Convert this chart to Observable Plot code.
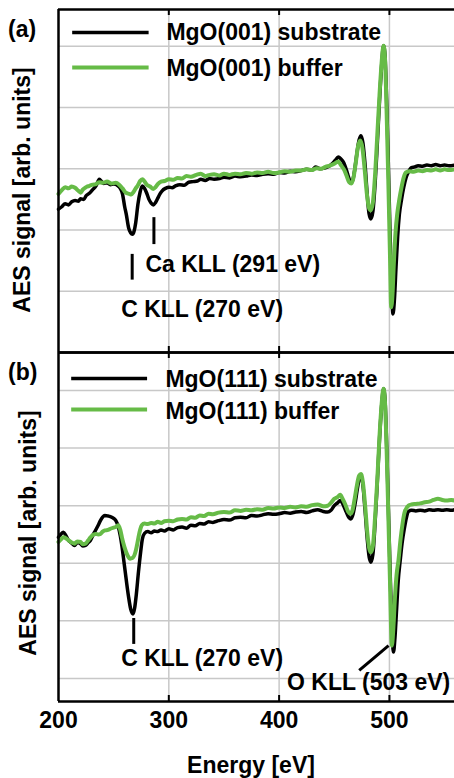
<!DOCTYPE html>
<html><head><meta charset="utf-8">
<script src="https://cdn.jsdelivr.net/npm/d3@7"></script>
<script src="https://cdn.jsdelivr.net/npm/@observablehq/plot@0.6"></script>
<style>
body{margin:0;background:#fff;}
#wrap{position:relative;width:454px;height:778px;overflow:hidden;}
#wrap svg{position:absolute;left:0;}
</style></head><body>
<div id="wrap"></div>
<script>
// ---------- data ----------
const xTickLabels = [200, 300, 400, 500];
const gridEnergies = [300, 400, 500];
const panelLabels = ["(a)", "(b)"];
const yLabel = "AES signal [arb. units]";
const xLabel = "Energy [eV]";
const legendA = ["MgO(001) substrate", "MgO(001) buffer"];
const legendB = ["MgO(111) substrate", "MgO(111) buffer"];
const annotA = ["Ca KLL (291 eV)", "C KLL (270 eV)"];
const annotB = ["C KLL (270 eV)", "O KLL (503 eV)"];

// Panel (a) substrate
const aSubE = [200,203,206,209,212,215,218,220,223,225,228,231,234,237,239,241,244,247,250,254,256,258,260,261.5,263.5,265.5,267,268.5,270,272,274,276,278,280,282,284,286,288,290,292,294,297,300,303,306,310,314,318,322,326,329,333,337,341,346,350,355,360,365,370,375,380,385,390,395,400,405,410,415,420,425,430,433,437,441,445,448,451,453.6,456,458.5,461,463,465,466.5,468.5,470.5,472.5,474.2,476,478,480,481.5,483.2,485,487,489,491,493,494.7,496,497.5,499,500.5,502,503.2,504.5,506,507.5,509,511,513,515,517.3,520,523,526,530,534,538,542,546,550,554,559];
const aSubV = [2.34,2.38,2.43,2.41,2.46,2.48,2.47,2.51,2.50,2.56,2.60,2.66,2.72,2.83,2.79,2.76,2.77,2.74,2.75,2.72,2.68,2.59,2.38,2.25,2.04,1.95,1.93,1.98,2.12,2.42,2.62,2.72,2.68,2.60,2.50,2.44,2.41,2.45,2.52,2.59,2.64,2.68,2.70,2.69,2.72,2.74,2.73,2.78,2.79,2.80,2.83,2.81,2.84,2.83,2.84,2.86,2.85,2.88,2.87,2.88,2.90,2.89,2.91,2.92,2.91,2.94,2.93,2.96,2.95,2.97,2.99,2.98,3.03,3.00,3.01,3.04,3.08,3.14,3.19,3.16,3.10,2.98,2.86,2.78,2.80,2.98,3.25,3.47,3.54,3.42,3.05,2.55,2.27,2.18,2.30,2.75,3.40,4.10,4.70,5.01,4.85,4.10,3.10,2.00,1.05,0.63,0.85,1.40,1.90,2.25,2.50,2.70,2.85,2.95,3.02,3.03,3.05,3.04,3.06,3.05,3.07,3.05,3.06,3.05,3.06];
// Panel (a) buffer
const aBufE = [200,203,206,209,212,215,218,220,222,225,228,231,234,237,240,244,248,252,255,258,261,264,266,268,270,272,274,276,278,280,283,286,288,290,293,296,300,304,308,312,316,320,325,329,333,337,341,346,350,355,360,365,370,375,380,385,390,395,400,405,410,415,420,425,430,434,438,442,446,450,453.6,456,459,461.5,463.5,465.5,467.5,469.5,471.5,473.5,475.5,477.5,479.5,481.5,483,485,487,489,491,493,494.7,496,497.5,499,500.5,501.6,502.8,504,505.5,507,509,511,513,515,518,522,526,530,534,538,542,546,550,554,559];
const aBufV = [2.59,2.65,2.70,2.68,2.71,2.69,2.64,2.61,2.66,2.70,2.72,2.74,2.75,2.78,2.77,2.79,2.76,2.77,2.74,2.68,2.61,2.59,2.58,2.62,2.68,2.73,2.80,2.83,2.79,2.74,2.71,2.67,2.70,2.75,2.79,2.80,2.83,2.82,2.85,2.84,2.88,2.87,2.90,2.92,2.88,2.90,2.91,2.89,2.92,2.90,2.92,2.91,2.93,2.92,2.94,2.93,2.95,2.93,2.94,2.96,2.95,2.97,2.97,2.99,2.98,3.01,3.00,3.03,3.05,3.08,3.12,3.06,2.98,2.87,2.78,2.76,2.86,3.10,3.36,3.46,3.34,3.00,2.60,2.36,2.32,2.45,2.90,3.55,4.20,4.75,5.01,4.80,3.90,2.80,1.60,0.74,0.95,1.45,1.95,2.25,2.50,2.70,2.86,2.94,2.96,2.95,2.97,2.96,2.98,2.97,2.99,2.97,2.99,2.98,2.99];
// Panel (b) substrate
const bSubE = [200,202,204.5,207,209,212,214.5,217,220,222,224.5,227,229,231,233.5,236,238,240,242,245,247,250,252,254.3,256,257.5,259.5,261.5,263.5,265.5,267.5,269,270.5,272.5,274.5,276,278,281,284,287,290,293,296,300,304,308,312,316,320,324,328,332,336,340,345,350,355,360,365,370,375,380,385,390,395,400,405,410,415,420,425,430,435,440,444,447,450,453,455.4,457.5,460,462.5,465,467,469,471,472.8,474.2,476,478,480,481.7,483.2,485,487,489,491,493,494.7,496,497.5,499,500.5,502,503.7,505,506.5,508,509.8,511.5,513.5,515.5,517.3,520,524,528,532,536,540,544,548,552,556,559];
const bSubV = [2.45,2.50,2.54,2.47,2.40,2.35,2.31,2.36,2.34,2.30,2.31,2.36,2.40,2.48,2.57,2.66,2.74,2.80,2.83,2.82,2.81,2.78,2.74,2.63,2.48,2.30,2.00,1.70,1.42,1.20,1.12,1.22,1.45,1.85,2.20,2.42,2.52,2.55,2.53,2.56,2.55,2.58,2.56,2.60,2.58,2.62,2.63,2.61,2.66,2.65,2.69,2.68,2.72,2.71,2.74,2.76,2.75,2.79,2.80,2.79,2.83,2.82,2.84,2.86,2.85,2.86,2.88,2.87,2.89,2.90,2.88,2.91,2.93,2.90,2.89,2.92,3.00,3.05,3.09,3.04,2.93,2.82,2.77,2.85,3.05,3.30,3.48,3.52,3.35,2.90,2.40,2.10,2.02,2.15,2.70,3.40,4.15,4.75,5.03,4.85,4.05,3.00,1.95,1.00,0.46,0.70,1.20,1.70,2.05,2.35,2.60,2.80,2.90,2.92,2.91,2.92,2.91,2.93,2.92,2.93,2.92,2.93,2.92,2.93];
// Panel (b) buffer
const bBufE = [200,202,204.5,207,209,212,214.5,217,220,222,224.5,227,229,231,233.5,236,238,240,242,245,247,250,252,254.3,256,257.5,259.8,262.5,265,267,269.7,271,272.5,274,275.5,278,281,284,287,290,293,296,300,304,308,312,316,320,324,328,332,336,340,345,350,355,360,365,370,375,380,385,390,395,400,405,410,415,420,425,430,435,440,444,447,450,453,455.4,457.5,460,462.5,464.5,466.5,468.5,470.5,472.5,474.2,476,478,480,481.7,483.2,485,487,489,491,493,494.7,496,497.5,499,500.5,502.2,503.5,505,506.5,508.2,510,512,514,517.3,520,524,528,532,536,540,544,548,552,556,559];
const bBufV = [2.37,2.41,2.45,2.43,2.40,2.36,2.34,2.38,2.37,2.33,2.34,2.40,2.45,2.49,2.51,2.50,2.51,2.55,2.57,2.58,2.60,2.62,2.63,2.66,2.58,2.45,2.28,2.14,2.08,2.09,2.19,2.30,2.45,2.58,2.66,2.69,2.68,2.70,2.69,2.72,2.70,2.73,2.74,2.73,2.76,2.77,2.76,2.80,2.79,2.83,2.82,2.86,2.85,2.88,2.89,2.88,2.92,2.91,2.93,2.92,2.94,2.93,2.96,2.95,2.97,2.96,2.98,2.97,2.99,2.98,3.01,3.02,2.99,3.00,3.05,3.12,3.15,3.19,3.12,3.02,2.90,2.86,2.92,3.12,3.35,3.52,3.55,3.40,3.00,2.52,2.26,2.19,2.30,2.80,3.45,4.20,4.78,5.03,4.80,3.95,2.85,1.70,0.57,0.85,1.40,1.80,2.05,2.40,2.70,2.90,3.00,3.02,3.03,3.04,3.06,3.07,3.10,3.12,3.10,3.09,3.10,3.09];

// ---------- build tables ----------
const toRows = (E, V) => E.map((e, i) => ({E: e, v: V[i]}));
const aSub = toRows(aSubE, aSubV), aBuf = toRows(aBufE, aBufV);
const bSub = toRows(bSubE, bSubV), bBuf = toRows(bBufE, bBufV);

const GREEN = "#66bb47";
const GRID = "#c8c8c8";
const FONT = "'Liberation Sans', Arial, Helvetica, sans-serif";
const FS = 23;
const W = 454, ML = 58;
const X_DOMAIN = [200, 559];
const txt = {fontFamily: FONT, fontWeight: "bold", fontSize: FS, fill: "black"};

function frameMarks(yDomain, plotH, gridYs) {
  return {
    grid: [
      Plot.ruleX(gridEnergies, {stroke: GRID, strokeWidth: 1.5}),
      Plot.ruleY(gridYs, {stroke: GRID, strokeWidth: 1.5})
    ],
    border: [
      Plot.ruleX(gridEnergies, {stroke: "black", strokeWidth: 2, insetBottom: plotH - 6}),
      Plot.ruleX(gridEnergies, {stroke: "black", strokeWidth: 2, insetTop: plotH - 6}),
      Plot.ruleX([X_DOMAIN[0]], {stroke: "black", strokeWidth: 2.5}),
      Plot.ruleY(yDomain, {stroke: "black", strokeWidth: 2.5})
    ]
  };
}

// ---------- panel (a) ----------
const HA = 352, MTA = 9, MBA = 0;
const yDomA = [0, 5.6];
const fa = frameMarks(yDomA, HA - MTA - MBA, [1, 2, 3, 4, 5]);
const plotA = Plot.plot({
  width: W, height: HA, marginLeft: ML, marginRight: 0, marginTop: MTA, marginBottom: MBA,
  x: {domain: X_DOMAIN, axis: null},
  y: {domain: yDomA, axis: null},
  style: {background: "transparent", overflow: "visible"},
  marks: [
    ...fa.grid,
    Plot.line(aSub, {x: "E", y: "v", stroke: "black", strokeWidth: 3.5, curve: "monotone-x"}),
    Plot.line(aBuf, {x: "E", y: "v", stroke: GREEN, strokeWidth: 4, curve: "monotone-x"}),
    // legend
    Plot.link([legendA[0]], {x1: 212.4, x2: 281.7, y1: 5.225, y2: 5.225, stroke: "black", strokeWidth: 3.5}),
    Plot.link([legendA[1]], {x1: 212.4, x2: 281.7, y1: 4.654, y2: 4.654, stroke: GREEN, strokeWidth: 4}),
    Plot.text([legendA[0]], {x: 297.8, y: 5.22, text: d => d, textAnchor: "start", ...txt}),
    Plot.text([legendA[1]], {x: 297.8, y: 4.64, text: d => d, textAnchor: "start", ...txt}),
    // annotations
    Plot.link([annotA[0]], {x1: 286.5, x2: 286.5, y1: 2.21, y2: 1.77, stroke: "black", strokeWidth: 3}),
    Plot.link([annotA[1]], {x1: 266.8, x2: 266.8, y1: 1.61, y2: 1.19, stroke: "black", strokeWidth: 3}),
    Plot.text([annotA[0]], {x: 278.8, y: 1.43, text: d => d, textAnchor: "start", ...txt}),
    Plot.text([annotA[1]], {x: 256.8, y: 0.70, text: d => d, textAnchor: "start", ...txt}),
    ...fa.border
  ]
});
plotA.style.top = "0px";

// ---------- panel (b) ----------
const HB = 426, MTB = 0, MBB = 77;
const yDomB = [-0.4, 5.66];
const fb = frameMarks(yDomB, HB - MTB - MBB, [0, 1, 2, 3, 4, 5]);
const plotB = Plot.plot({
  width: W, height: HB, marginLeft: ML, marginRight: 0, marginTop: MTB, marginBottom: MBB,
  x: {domain: X_DOMAIN, axis: null},
  y: {domain: yDomB, axis: null},
  style: {background: "transparent", overflow: "visible"},
  marks: [
    ...fb.grid,
    Plot.line(bSub, {x: "E", y: "v", stroke: "black", strokeWidth: 3.5, curve: "monotone-x"}),
    Plot.line(bBuf, {x: "E", y: "v", stroke: GREEN, strokeWidth: 4, curve: "monotone-x"}),
    // legend
    Plot.link([legendB[0]], {x1: 211.5, x2: 280.3, y1: 5.21, y2: 5.21, stroke: "black", strokeWidth: 3.5}),
    Plot.link([legendB[1]], {x1: 211.5, x2: 280.3, y1: 4.67, y2: 4.67, stroke: GREEN, strokeWidth: 4}),
    Plot.text([legendB[0]], {x: 296.9, y: 5.19, text: d => d, textAnchor: "start", ...txt}),
    Plot.text([legendB[1]], {x: 296.9, y: 4.64, text: d => d, textAnchor: "start", ...txt}),
    // annotations
    Plot.link([annotB[0]], {x1: 268.2, x2: 268.2, y1: 1.05, y2: 0.60, stroke: "black", strokeWidth: 3}),
    Plot.link([annotB[1]], {x1: 472.6, x2: 499.2, y1: 0.14, y2: 0.57, stroke: "black", strokeWidth: 3}),
    Plot.text([annotB[0]], {x: 256.8, y: 0.34, text: d => d, textAnchor: "start", ...txt}),
    Plot.text([annotB[1]], {x: 407.2, y: -0.07, text: d => d, textAnchor: "start", ...txt}),
    ...fb.border,
    // x tick labels
    Plot.text(xTickLabels, {x: d => d, frameAnchor: "bottom", dy: 26, text: d => String(d), ...txt})
  ]
});
plotB.style.top = "352px";

const wrap = document.getElementById("wrap");
wrap.appendChild(plotA);
wrap.appendChild(plotB);

// ---------- outer labels ----------
const ov = d3.select(wrap).append("svg")
  .attr("width", W).attr("height", 778)
  .style("top", "0px").style("pointer-events", "none")
  .attr("font-family", FONT).attr("font-weight", "bold").attr("font-size", FS);
ov.append("text").attr("x", 8).attr("y", 37).text(panelLabels[0]);
ov.append("text").attr("x", 8).attr("y", 380).text(panelLabels[1]);
ov.append("text").attr("transform", "translate(29.5,190) rotate(-90)").attr("text-anchor", "middle").text(yLabel);
ov.append("text").attr("transform", "translate(35.5,533) rotate(-90)").attr("text-anchor", "middle").text(yLabel);
ov.append("text").attr("x", 251).attr("y", 773).attr("text-anchor", "middle").text(xLabel);
</script>
</body></html>
